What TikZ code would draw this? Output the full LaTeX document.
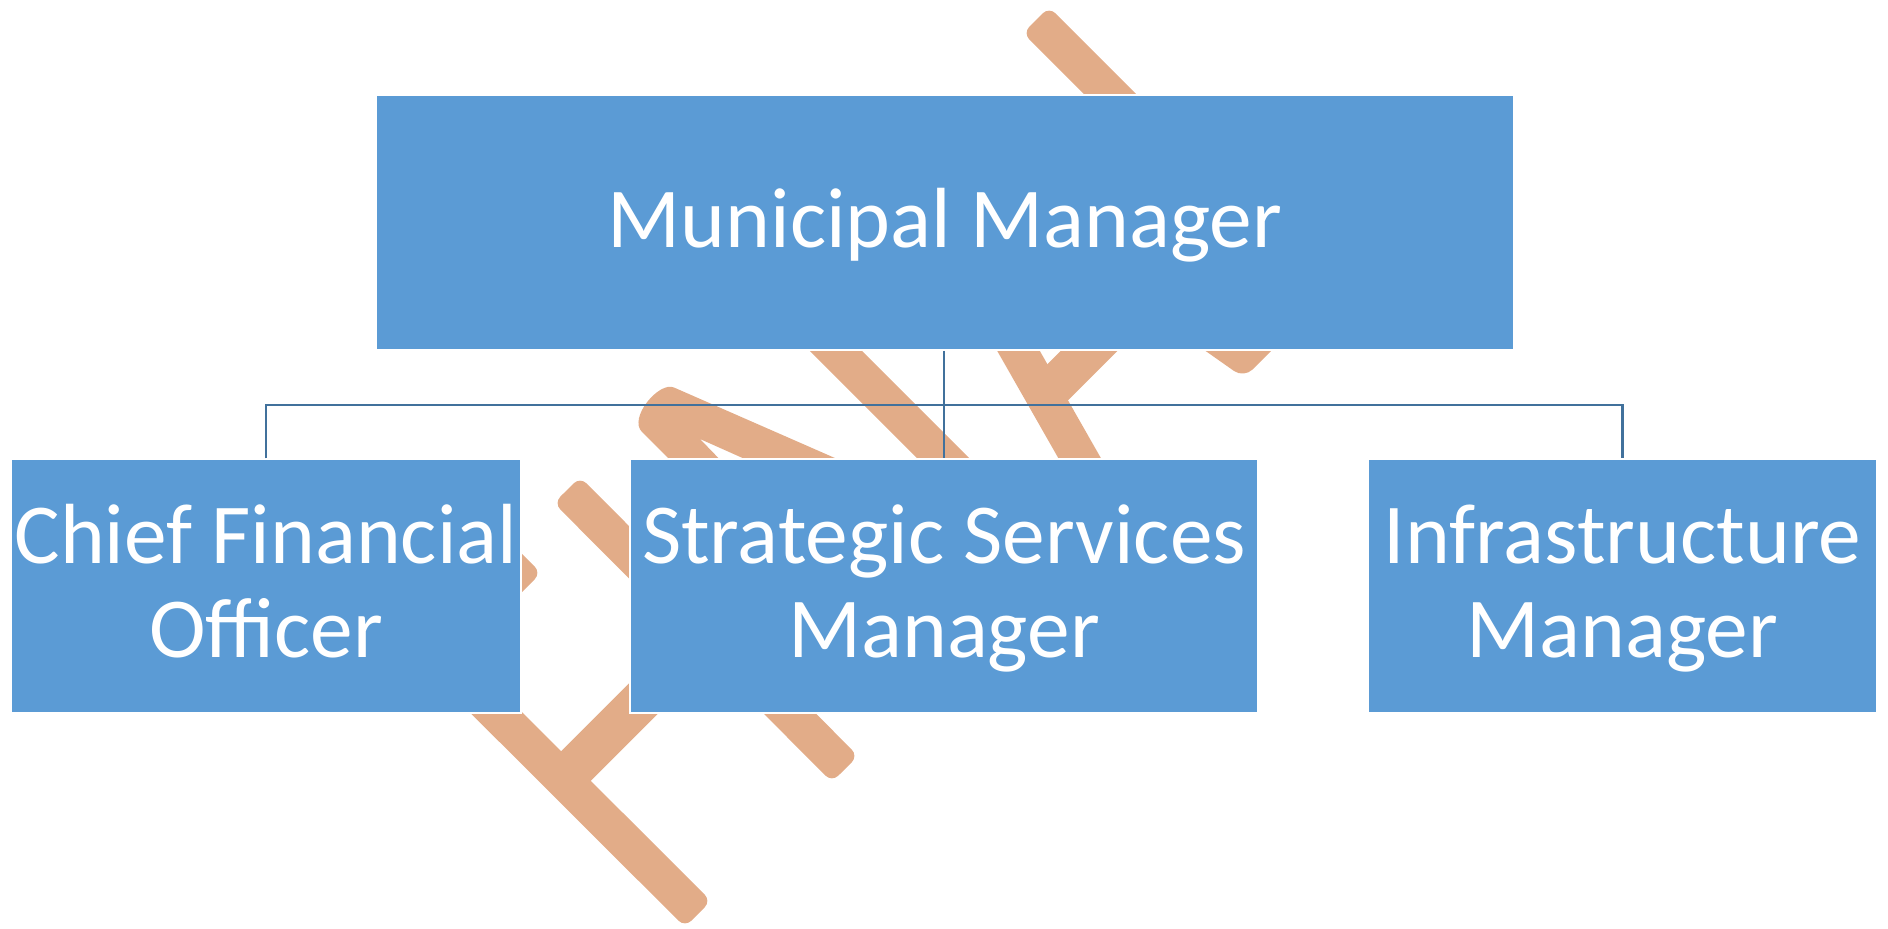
\documentclass[tikz,border=0pt]{standalone}
\usepackage{fontspec}
\setmainfont{Carlito}
\usetikzlibrary{calc}
\definecolor{boxblue}{HTML}{5B9BD5}
\definecolor{bandcol}{HTML}{E2AC88}
\definecolor{linecol}{HTML}{41719C}
\newcommand\orgband[3]{%
  \fill[bandcol, rounded corners=9pt] ($(#2)!#1!90:(#3)$) -- ($(#3)!#1!-90:(#2)$) -- ($(#3)!#1!90:(#2)$) -- ($(#2)!#1!-90:(#3)$) -- cycle;}
\newcommand\boxtext[1]{\raisebox{-6pt}[\height][\depth]{\begin{tabular}{@{}c@{}}#1\end{tabular}}}
\tikzset{
  orgbox/.style={fill=boxblue, draw=white, line width=1.5pt, text=white, align=center,
    inner sep=0pt, font=\fontsize{85.4}{94}\selectfont},
  conn/.style={draw=linecol, line width=2.2pt}
}
\begin{document}
\begin{tikzpicture}[x=1pt,y=-1pt]
\useasboundingbox (0,0) rectangle (1888,929);
% background orange strokes
\orgband{18.5pt}{1036,20}{1200,184}
\orgband{18.5pt}{700,215}{1000,515}
\orgband{18.5pt}{961,250}{1132,550}
\orgband{20pt}{1120,320}{1044,396}
\orgband{18.5pt}{567,490}{845,769}
\orgband{18.5pt}{440,498}{528,586}
\orgband{18.5pt}{420,636.5}{698,914}
\orgband{21pt}{690,652}{563,779}
\fill[bandcol, rounded corners=12pt] (1190,340) -- (1244,378) -- (1282,340) -- cycle;
\fill[bandcol] (690,480) -- (642,432) .. controls (628,418) and (659,381) .. (674,387.5) -- (860,469) -- (765,468) -- (700,439) -- (730,470) -- cycle;
% boxes
\node[orgbox, minimum width=1138pt, minimum height=255pt] (mm) at (945,222.5) {\boxtext{Municipal Manager}};
\node[orgbox, minimum width=510pt, minimum height=254pt] (cfo) at (266,586) {\boxtext{Chief Financial\\Officer}};
\node[orgbox, minimum width=628pt, minimum height=254pt] (ssm) at (944,586) {\boxtext{Strategic Services\\Manager}};
\node[orgbox, minimum width=509pt, minimum height=254pt] (im) at (1622.5,586) {\boxtext{Infrastructure\\Manager}};
% connectors
\coordinate (bus) at (944,405);
\draw[conn] (mm.south -| ssm.north) -- (ssm.north);
\draw[conn] (cfo.north) -- (cfo.north |- bus) -- (im.north |- bus) -- (im.north);
\end{tikzpicture}
\end{document}
